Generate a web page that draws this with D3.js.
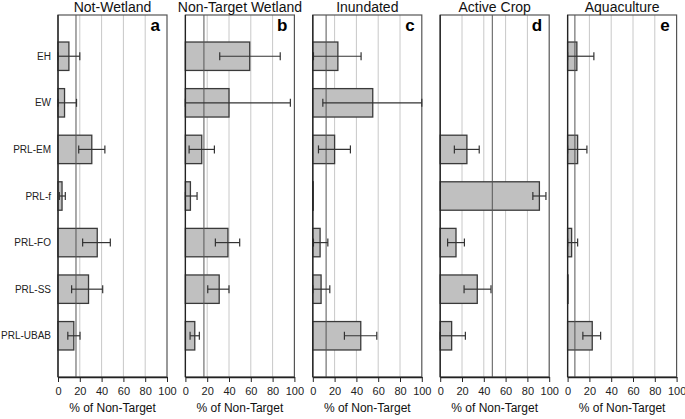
<!DOCTYPE html>
<html><head><meta charset="utf-8">
<script src="https://cdn.jsdelivr.net/npm/d3@7"></script>
<style>body{margin:0;background:#fff}svg{display:block}text{font-family:Arial,"Liberation Sans",sans-serif}</style>
</head><body>
<svg id="c" width="685" height="419"></svg>
<script>
const categories = ["EH","EW","PRL-EM","PRL-f","PRL-FO","PRL-SS","PRL-UBAB"];
const panelTitles = ["Not-Wetland","Non-Target Wetland","Inundated","Active Crop","Aquaculture"];
const panelLetters = ["a","b","c","d","e"];
const xTicks = [0,20,40,60,80,100];
const gridValues = [20,40,60,80];
// bar values per panel (% of Non-Target), order follows categories
const valNotWetland   = [10, 6, 31, 3.7, 36, 28, 14.5];
const valNonTarget    = [59, 40, 15, 4.6, 39, 31, 8.6];
const valInundated    = [23, 55, 20, 0.4, 6.7, 7.6, 44];
const valActiveCrop   = [0, 0, 24.5, 91, 14.5, 34, 10.5];
const valAquaculture  = [8.5, 0, 9.2, 0, 3.7, 0.4, 22.6];
// error bar lower / upper bounds
const loNotWetland  = [0, 0, 19, 1.2, 22.6, 12.5, 9];
const hiNotWetland  = [20, 17, 43, 6.7, 48, 41, 20.2];
const loNonTarget   = [31.5, 0, 3.4, 0, 27.5, 20.5, 4.3];
const hiNonTarget   = [87, 96.3, 26.6, 10.7, 49.8, 40, 12.8];
const loInundated   = [0.6, 9.2, 5.2, null, 0.6, 0, 29];
const hiInundated   = [44.3, 100, 34.5, null, 13.8, 15.6, 58.7];
const loActiveCrop  = [null, null, 13, 85, 6.8, 21.9, 0];
const hiActiveCrop  = [null, null, 35.8, 97, 22.2, 46.6, 23.1];
const loAquaculture = [0, null, 0, null, 0, null, 14];
const hiAquaculture = [24.1, null, 17.7, null, 9.2, null, 30.3];
// dark vertical reference line per panel
const refLines = [16.5, 17, 12.2, 47.8, 6.7];

const values = [valNotWetland, valNonTarget, valInundated, valActiveCrop, valAquaculture];
const los = [loNotWetland, loNonTarget, loInundated, loActiveCrop, loAquaculture];
const his = [hiNotWetland, hiNonTarget, hiInundated, hiActiveCrop, hiAquaculture];

const svg = d3.select("#c");
const plotTop = 15, plotBottom = 377, pw = 109, firstLeft = 58, gap = 127.4;
const y = d3.scaleBand().domain(categories).range([plotTop, plotBottom]).paddingInner(0.39).paddingOuter(0.58);

panelTitles.forEach((title, p) => {
  const left = firstLeft + p * gap;
  const x = d3.scaleLinear().domain([0,100]).range([left, left + pw]);
  const g = svg.append("g");
  g.selectAll(".grid").data(gridValues).join("line")
    .attr("x1", d => x(d)).attr("x2", d => x(d)).attr("y1", plotTop).attr("y2", plotBottom)
    .attr("stroke", "#c8c8c8").attr("stroke-width", 1);
  g.append("rect").attr("x", left).attr("y", plotTop).attr("width", pw).attr("height", plotBottom - plotTop)
    .attr("fill", "none").attr("stroke", "#555").attr("stroke-width", 1.2);
  const data = categories.map((c, i) => ({c, v: values[p][i], lo: los[p][i], hi: his[p][i]}));
  g.selectAll(".bar").data(data.filter(d => d.v > 0)).join("rect")
    .attr("x", x(0)).attr("y", d => y(d.c))
    .attr("width", d => x(d.v) - x(0)).attr("height", y.bandwidth())
    .attr("fill", "#c0c0c0").attr("stroke", "#3a3a3a").attr("stroke-width", 1.3);
  g.append("line").attr("x1", x(refLines[p])).attr("x2", x(refLines[p]))
    .attr("y1", plotTop).attr("y2", plotBottom).attr("stroke", "#555").attr("stroke-width", 1);
  const eb = data.filter(d => d.hi != null);
  const cy = d => y(d.c) + y.bandwidth() / 2;
  g.selectAll(".eb").data(eb).join("line")
    .attr("x1", d => x(d.lo)).attr("x2", d => x(d.hi)).attr("y1", cy).attr("y2", cy)
    .attr("stroke", "#333").attr("stroke-width", 1.2);
  g.selectAll(".capL").data(eb).join("line")
    .attr("x1", d => x(d.lo)).attr("x2", d => x(d.lo)).attr("y1", d => cy(d) - 4).attr("y2", d => cy(d) + 4)
    .attr("stroke", "#333").attr("stroke-width", 1.2);
  g.selectAll(".capH").data(eb).join("line")
    .attr("x1", d => x(d.hi)).attr("x2", d => x(d.hi)).attr("y1", d => cy(d) - 4).attr("y2", d => cy(d) + 4)
    .attr("stroke", "#333").attr("stroke-width", 1.2);
  g.append("line").attr("x1", left).attr("x2", left).attr("y1", plotTop).attr("y2", plotBottom)
    .attr("stroke", "#222").attr("stroke-width", 1.3);
  const ax = g.append("g").attr("transform", `translate(0,${plotBottom})`)
    .call(d3.axisBottom(x).tickValues(xTicks).tickSize(5).tickPadding(5).tickSizeOuter(0));
  ax.select(".domain").attr("stroke", "#222").attr("stroke-width", 1.3);
  ax.selectAll(".tick line").attr("stroke", "#222");
  ax.selectAll("text").attr("font-size", 11).attr("fill", "#222")
    .attr("font-family", "Arial, 'Liberation Sans', sans-serif");
  g.append("text").attr("x", left + pw / 2).attr("y", 12).attr("text-anchor", "middle")
    .attr("font-size", 14).attr("fill", "#111").text(title);
  g.append("text").attr("x", left + pw - 7).attr("y", 31).attr("text-anchor", "end")
    .attr("font-size", 17).attr("font-weight", "bold").attr("fill", "#000").text(panelLetters[p]);
  g.append("text").attr("x", left + pw / 2).attr("y", 412).attr("text-anchor", "middle")
    .attr("font-size", 12).attr("fill", "#111").text("% of Non-Target");
});

svg.selectAll(".cat").data(categories).join("text")
  .attr("x", 51).attr("y", d => y(d) + y.bandwidth() / 2).attr("dy", "0.35em")
  .attr("text-anchor", "end").attr("font-size", 10).attr("fill", "#222").text(d => d);
</script>
</body></html>
